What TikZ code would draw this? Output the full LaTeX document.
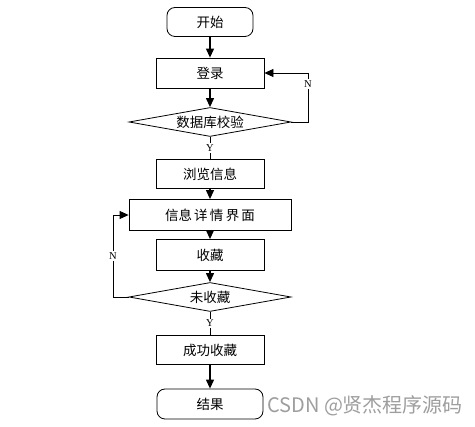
\documentclass[tikz,border=0pt]{standalone}
\usepackage{fontspec}
\setmainfont{Liberation Serif}
\newfontfamily\cjk{Noto Sans CJK SC}
\usetikzlibrary{shapes.geometric,arrows.meta}
\begin{document}
\begin{tikzpicture}[x=1pt,y=-1pt,
  every node/.style={inner sep=0pt},
  txt/.style={font=\cjk\fontsize{13.5}{14}\selectfont},
  box/.style={txt,draw,line width=0.8pt,minimum width=108pt,minimum height=30pt},
  widebox/.style={box,minimum width=162pt,minimum height=31pt},
  term/.style={box,rounded corners=8pt},
  dia/.style={txt,draw,line width=0.8pt,diamond,aspect=5.6,minimum width=162pt,minimum height=29pt},
  arr/.style={-{Triangle[length=9pt,width=8pt]},line width=1.2pt},
  thin/.style={line width=0.6pt},
  lab/.style={font=\fontsize{10.5}{11}\selectfont,fill=white,inner sep=1.5pt}]
\fill[white] (0,0) rectangle (475,427);
\useasboundingbox (0,0) rectangle (475,427);
\node[term,minimum width=86pt,minimum height=29pt] (start) at (210,22) {开始};
\node[box] (login) at (210,73) {登录};
\node[dia] (check) at (210,122) {数据库校验};
\node[box,minimum height=29pt] (browse) at (210,174) {浏览信息};
\node[widebox] (detail) at (210,215) {信息\,详\,情\,界\,面};
\node[box,minimum height=31pt] (fav) at (210,255) {收藏};
\node[dia] (nofav) at (210,297) {未收藏};
\node[box,minimum height=29pt] (ok) at (210,350) {成功收藏};
\node[term,minimum width=106pt,minimum height=30pt] (end) at (210,404) {结果};
\node[font=\cjk\fontsize{20}{22}\selectfont,text=black!38,anchor=west] (wm) at (267,406) {CSDN @贤杰程序源码};
\coordinate (c1) at (308,122);
\coordinate (c2) at (113,297);
\draw[arr] (start) -- (login);
\draw[arr] (login) -- (check);
\draw[thin] (check.south) -- node[lab]{Y} (browse.north);
\draw[arr] (browse) -- (detail);
\draw[arr] (detail) -- (fav);
\draw[arr] (fav) -- (nofav);
\draw[thin] (nofav.south) -- node[lab]{Y} (ok.north);
\draw[arr] (ok) -- (end);
\draw[arr,line width=0.8pt] (check.east) -- (c1) |- node[lab,pos=0.39]{N} (login.east);
\draw[arr,line width=0.8pt] (nofav.west) -- (c2) |- node[lab,pos=0.25]{N} (detail.west);
\end{tikzpicture}
\end{document}
